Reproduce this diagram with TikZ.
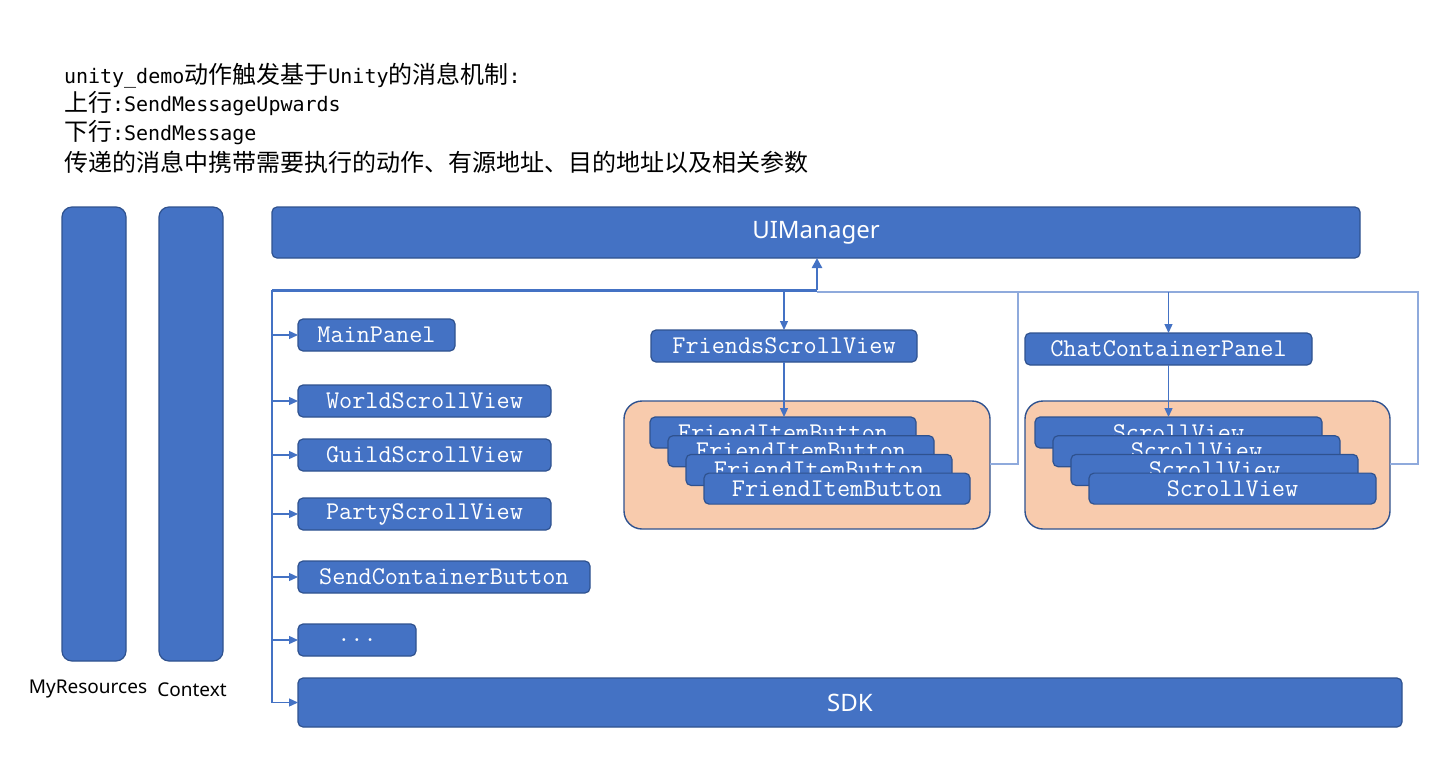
\documentclass[tikz,border=0pt]{standalone}
\usepackage{fontspec}
\setmainfont{Noto Sans}
\newfontfamily\cjk{Noto Sans CJK SC}
\newfontfamily\monosans{DejaVu Sans Mono}
\usepackage{tikz}
\usetikzlibrary{arrows.meta, positioning}
\definecolor{boxblue}{HTML}{4472C4}
\definecolor{boxline}{HTML}{2F528F}
\definecolor{wireblue}{HTML}{4472C4}
\definecolor{wirelight}{HTML}{8FAADC}
\definecolor{peach}{HTML}{F8CBAD}

\begin{document}
\begin{tikzpicture}
    [x=1pt, y=-1pt,
     every node/.style={inner sep=0pt, outer sep=0pt},
     box/.style={draw=boxline, fill=boxblue, line width=1.2pt, rounded corners=5pt,
                 text=white, font=\ttfamily\fontsize{25.5}{27}\selectfont, anchor=north west},
     bigbox/.style={box, font=\fontsize{24}{26}\selectfont},
     pillar/.style={box, rounded corners=10pt, minimum width=64, minimum height=454},
     group/.style={draw=boxline, fill=peach, line width=1.4pt, rounded corners=18pt,
                   anchor=north west, minimum width=366, minimum height=128},
     wire/.style={draw=wireblue, line width=1.3pt},
     light/.style={draw=wirelight, line width=1.3pt},
     arr/.style={wire, -{Triangle[length=9pt, width=8pt]}},
     note/.style={anchor=west, font=\fontsize{24}{26}\selectfont}]

    \useasboundingbox (0,0) rectangle (1448,769);

    % header text
    \node[note] (n1) at (64,76) {{\monosans\fontsize{20}{22}\selectfont unity\_demo}{\cjk 动作触发基于}{\monosans\fontsize{20}{22}\selectfont Unity}{\cjk 的消息机制}{\monosans\fontsize{20}{22}\selectfont :}};
    \node[note] (n2) at (64,104) {{\cjk 上行}{\monosans\fontsize{20}{22}\selectfont :SendMessageUpwards}};
    \node[note] (n3) at (64,133) {{\cjk 下行}{\monosans\fontsize{20}{22}\selectfont :SendMessage}};
    \node[note] (n4) at (64,162) {\cjk 传递的消息中携带需要执行的动作、有源地址、目的地址以及相关参数};

    % left pillars
    \node[pillar] (res) at (62,207) {};
    \node[pillar] (ctx) at (159,207) {};
    \node[font=\fontsize{19}{21}\selectfont] (reslbl) at (88,689) {MyResources};
    \node[font=\fontsize{19}{21}\selectfont] (ctxlbl) at (192,690) {Context};

    % top and bottom bars
    \node[bigbox, minimum width=1088, minimum height=51] (ui) at (272,207) {UIManager};
    \node[bigbox, minimum width=1104, minimum height=49] (sdk) at (298,678) {SDK};

    % left column
    \node[box, minimum width=157, minimum height=32] (main) at (298,319) {MainPanel};
    \node[box, minimum width=253, minimum height=32] (world) at (298,385) {WorldScrollView};
    \node[box, minimum width=253, minimum height=32] (guild) at (298,439) {GuildScrollView};
    \node[box, minimum width=253, minimum height=32] (party) at (298,498) {PartyScrollView};
    \node[box, minimum width=292, minimum height=32] (send) at (298,561) {SendContainerButton};
    \node[box, minimum width=118, minimum height=32] (more) at (298,624) {...};

    % friends
    \node[box, minimum width=266, minimum height=32] (fsv) at (651,330) {FriendsScrollView};
    \node[group] (fgrp) at (624,401) {};
    \foreach \i in {0,...,3}
        \node[box, minimum width=266, minimum height=31] (fib\i) at ({650+18*\i},{417+18.7*\i}) {FriendItemButton};

    % chat
    \node[box, minimum width=287, minimum height=32] (ccp) at (1025,333) {ChatContainerPanel};
    \node[group, minimum width=365] (cgrp) at (1025,401) {};
    \foreach \i in {0,...,3}
        \node[box, minimum width=287, minimum height=31] (sv\i) at ({1035+18*\i},{417+18.7*\i}) {ScrollView};

    % connectors
    \coordinate (trunk) at (272,290);
    \coordinate (up) at (817,290);
    \coordinate (rail) at (817,292);
    \draw[light] (rail) -- (1418,292) coordinate (rend) -- (rend |- 0,464) -- (cgrp.east |- 0,464);
    \draw[light] (rail -| 1018,0) -- (1018,464) -- (fgrp.east |- 0,464);
    \draw[wire, line width=3pt] (trunk) -- (up);
    \draw[arr, line width=2.5pt, -{Triangle[length=10pt, width=10pt]}] (up) -- (up |- ui.south);
    \draw[wire] (trunk) -- (trunk |- sdk.west);
    \foreach \b in {main, world, guild, party, send, more, sdk}
        \draw[arr] (trunk |- \b.west) -- (\b.west);
    \draw[arr] (rail -| fsv.north) -- (fsv.north);
    \draw[arr] (rail -| ccp.north) -- (ccp.north);
    \draw[arr] (fsv.south) -- (fsv.south |- fib0.north);
    \draw[arr] (ccp.south) -- (ccp.south |- sv0.north);
\end{tikzpicture}
\end{document}
